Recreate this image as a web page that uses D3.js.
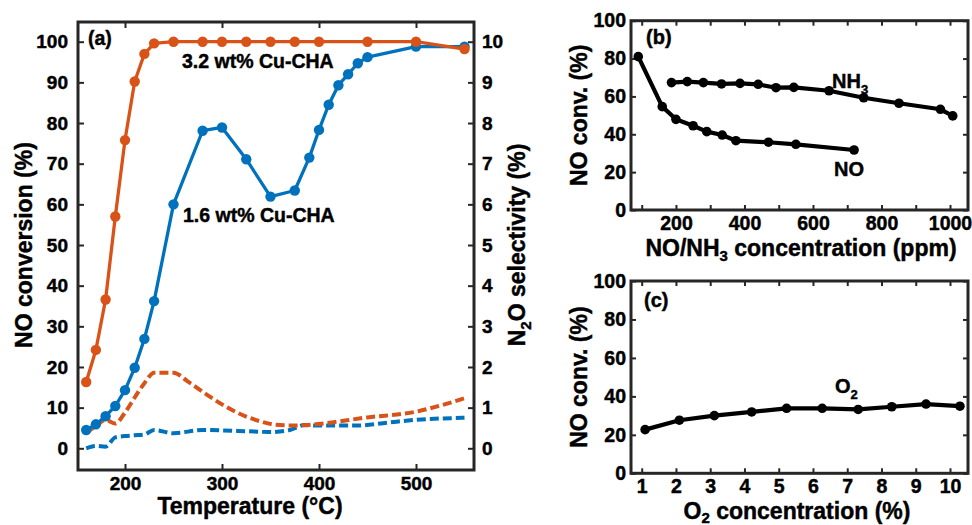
<!DOCTYPE html>
<html>
<head>
<meta charset="utf-8">
<script src="https://cdn.jsdelivr.net/npm/d3@7/dist/d3.min.js"></script>
<style>
  html, body { margin: 0; padding: 0; background: #fff; }
  svg { display: block; font-family: "Liberation Sans", Arial, sans-serif; font-weight: bold; }
  svg text { stroke: #000; stroke-width: 0.45px; fill: #000; }
</style>
</head>
<body>
<svg id="chart" width="972" height="525"></svg>
<script>
// ---------- Data ----------
// Panel (a): NO conversion vs temperature
const tempHigh = [160, 170, 180, 190, 200, 210, 220, 230, 250, 280, 300, 325, 350, 375, 400, 450, 500, 550];
const convHigh = [16.3, 24.2, 36.6, 57.0, 75.8, 90.2, 97.0, 99.6, 100, 100, 100, 100, 100, 100, 100, 100, 100, 98.2];
const tempLow = [160, 170, 180, 190, 200, 210, 220, 230, 250, 280, 300, 325, 350, 375, 390, 400, 410, 420, 430, 440, 450, 500, 550];
const convLow = [4.5, 5.9, 7.9, 10.4, 14.3, 19.8, 26.9, 36.2, 60.0, 78.1, 78.9, 71.1, 61.9, 63.4, 71.5, 78.3, 84.5, 89.3, 92.0, 94.7, 96.2, 98.8, 98.8];
// N2O selectivity (%), right axis
const selTemp = [160, 170, 180, 190, 200, 210, 220, 230, 250, 265, 285, 300, 325, 340, 355, 375, 400, 450, 500, 525, 550];
const selHigh = [0.38, 0.55, 0.70, 0.61, 0.88, 1.25, 1.60, 1.86, 1.86, 1.64, 1.31, 1.08, 0.78, 0.66, 0.58, 0.56, 0.60, 0.76, 0.90, 1.05, 1.23];
const selLowTemp = [160, 170, 180, 190, 200, 210, 220, 230, 250, 280, 300, 325, 350, 370, 385, 400, 440, 470, 500, 550];
const selLow = [0.0, 0.06, 0.04, 0.27, 0.30, 0.32, 0.34, 0.45, 0.37, 0.45, 0.44, 0.42, 0.40, 0.45, 0.57, 0.56, 0.56, 0.63, 0.70, 0.75];

const tickA = [200, 300, 400, 500];
const tickLeft = [0, 10, 20, 30, 40, 50, 60, 70, 80, 90, 100];
const tickRight = [0, 1, 2, 3, 4, 5, 6, 7, 8, 9, 10];

// Panel (b): NO / NH3 concentration
const noConc = [90, 160, 200, 250, 290, 335, 375, 470, 550, 720];
const noConvNO = [81.0, 54.6, 47.9, 44.5, 41.4, 39.6, 36.6, 35.8, 34.7, 31.7];
const nh3Conc = [187, 233, 280, 333, 387, 440, 492, 544, 647, 748, 851, 972, 1008];
const noConvNH3 = [67.3, 67.8, 67.3, 66.6, 66.9, 66.4, 64.6, 64.8, 63.0, 59.3, 56.4, 53.2, 49.7];
const tickB = [200, 400, 600, 800, 1000];
const tickBMinor = [100, 200, 300, 400, 500, 600, 700, 800, 900, 1000];

// Panel (c): O2 concentration
const o2Conc = [1.10, 2.10, 3.12, 4.21, 5.23, 6.27, 7.32, 8.30, 9.30, 10.29];
const noConvO2 = [22.7, 27.6, 30.0, 31.9, 33.8, 33.8, 33.2, 34.6, 36.0, 34.9];
const tickC = [1, 2, 3, 4, 5, 6, 7, 8, 9, 10];
const tickY = [0, 20, 40, 60, 80, 100];

// ---------- Styles ----------
const ORANGE = "#D95319", BLUE = "#0072BD", FRAME = "#262626";
const svg = d3.select("#chart");

function frame(g, x0, y0, x1, y1) {
  g.append("rect").attr("x", x0).attr("y", y0).attr("width", x1 - x0).attr("height", y1 - y0)
    .attr("fill", "none").attr("stroke", FRAME).attr("stroke-width", 3);
}
function styleAxis(sel, fs) {
  sel.select(".domain").remove();
  sel.selectAll(".tick line").attr("stroke", FRAME).attr("stroke-width", 2);
  sel.selectAll(".tick text").attr("font-size", fs)
    .attr("font-family", "Liberation Sans, Arial, sans-serif").attr("font-weight", "bold");
}

// ---------- Panel (a) ----------
{
  const L = 78, R = 474, T = 22, B = 470;
  const x = d3.scaleLinear().domain([200, 500]).range([125, 416]);
  const y = d3.scaleLinear().domain([0, 100]).range([448.3, 41.7]);
  const y2 = d3.scaleLinear().domain([0, 10]).range([448.3, 41.7]);
  const g = svg.append("g");

  const ax = g.append("g").attr("transform", `translate(0,${B})`)
    .call(d3.axisBottom(x).tickValues(tickA).tickSize(-6).tickPadding(7).tickFormat(d3.format("d")));
  styleAxis(ax, 19);
  const axT = g.append("g").attr("transform", `translate(0,${T})`)
    .call(d3.axisTop(x).tickValues(tickA).tickSize(-6).tickFormat(""));
  styleAxis(axT, 19);
  const ay = g.append("g").attr("transform", `translate(${L},0)`)
    .call(d3.axisLeft(y).tickValues(tickLeft).tickSize(-6).tickPadding(10).tickFormat(d3.format("d")));
  styleAxis(ay, 19);
  const ay2 = g.append("g").attr("transform", `translate(${R},0)`)
    .call(d3.axisRight(y2).tickValues(tickRight).tickSize(-6).tickPadding(8).tickFormat(d3.format("d")));
  styleAxis(ay2, 19);

  // dashed selectivity curves
  const lineSel = (xs) => d3.line().x((d, i) => x(xs[i])).y(d => y2(d)).curve(d3.curveMonotoneX);
  g.append("path").datum(selLow).attr("d", lineSel(selLowTemp)).attr("fill", "none")
    .attr("stroke", BLUE).attr("stroke-width", 4).attr("stroke-dasharray", "9,4");
  g.append("path").datum(selHigh).attr("d", lineSel(selTemp)).attr("fill", "none")
    .attr("stroke", ORANGE).attr("stroke-width", 4).attr("stroke-dasharray", "9,4");

  // conversion curves
  const drawSeries = (xs, ys, color) => {
    const line = d3.line().x((d, i) => x(xs[i])).y(d => y(d));
    g.append("path").datum(ys).attr("d", line).attr("fill", "none")
      .attr("stroke", color).attr("stroke-width", 3.3).attr("stroke-linejoin", "round");
    g.append("g").selectAll("circle").data(ys).join("circle")
      .attr("cx", (d, i) => x(xs[i])).attr("cy", d => y(d)).attr("r", 5.2).attr("fill", color);
  };
  drawSeries(tempLow, convLow, BLUE);
  drawSeries(tempHigh, convHigh, ORANGE);

  frame(g, L, T, R, B);

  g.append("text").attr("x", 88).attr("y", 45).attr("font-size", 19.5).text("(a)");
  g.append("text").attr("x", 182).attr("y", 68).attr("font-size", 19.5).text("3.2 wt% Cu-CHA");
  g.append("text").attr("x", 183).attr("y", 222).attr("font-size", 19.5).text("1.6 wt% Cu-CHA");

  g.append("text").attr("x", 250).attr("y", 514).attr("text-anchor", "middle")
    .attr("font-size", 23).text("Temperature (°C)");
  g.append("text").attr("transform", `translate(32,245) rotate(-90)`).attr("text-anchor", "middle")
    .attr("font-size", 23).text("NO conversion (%)");
  const rl = g.append("text").attr("transform", `translate(525,245) rotate(-90)`).attr("text-anchor", "middle")
    .attr("font-size", 23);
  rl.append("tspan").text("N");
  rl.append("tspan").attr("font-size", 15).attr("dy", 6).text("2");
  rl.append("tspan").attr("dy", -6).text("O selectivity (%)");
}

// ---------- Panel (b) & (c) ----------
function smallPanel(opts) {
  const { L, R, T, B, xDom, xRange, series, xTicks, xMinor, label, labelPos, pad } = opts;
  const x = d3.scaleLinear().domain(xDom).range(xRange);
  const y = d3.scaleLinear().domain([0, 100]).range([B, T]);
  const g = svg.append("g");
  const ax = g.append("g").attr("transform", `translate(0,${B})`)
    .call(d3.axisBottom(x).tickValues(xMinor).tickSize(-5).tickPadding(pad)
      .tickFormat(d => xTicks.includes(d) ? d3.format("d")(d) : ""));
  styleAxis(ax, 19.5);
  const axT = g.append("g").attr("transform", `translate(0,${T})`)
    .call(d3.axisTop(x).tickValues(xMinor).tickSize(-5).tickFormat(""));
  styleAxis(axT, 19.5);
  const ay = g.append("g").attr("transform", `translate(${L},0)`)
    .call(d3.axisLeft(y).tickValues(tickY).tickSize(-5).tickPadding(5).tickFormat(d3.format("d")));
  styleAxis(ay, 19.5);
  const ayR = g.append("g").attr("transform", `translate(${R},0)`)
    .call(d3.axisRight(y).tickValues(tickY).tickSize(-5).tickFormat(""));
  styleAxis(ayR, 19.5);

  series.forEach(s => {
    const line = d3.line().x((d, i) => x(s.xs[i])).y(d => y(d));
    g.append("path").datum(s.ys).attr("d", line).attr("fill", "none")
      .attr("stroke", "#000").attr("stroke-width", 4.2).attr("stroke-linejoin", "round");
    g.append("g").selectAll("circle").data(s.ys).join("circle")
      .attr("cx", (d, i) => x(s.xs[i])).attr("cy", d => y(d)).attr("r", 4.8).attr("fill", "#000");
  });
  frame(g, L, T, R, B);
  g.append("text").attr("x", labelPos[0]).attr("y", labelPos[1]).attr("font-size", 20).text(label);
  g.append("text").attr("transform", `translate(587,${(T + B) / 2}) rotate(-90)`).attr("text-anchor", "middle")
    .attr("font-size", 23).text("NO conv. (%)");
  return g;
}

const gb = smallPanel({
  L: 631, R: 968, T: 20.7, B: 210, xDom: [100, 1000], xRange: [641.7, 950],
  series: [{ xs: noConc, ys: noConvNO }, { xs: nh3Conc, ys: noConvNH3 }],
  xTicks: tickB, xMinor: tickBMinor, label: "(b)", labelPos: [646, 44], pad: 6
});
{
  const t = gb.append("text").attr("x", 832).attr("y", 88).attr("font-size", 20);
  t.append("tspan").text("NH");
  t.append("tspan").attr("font-size", 13).attr("dy", 6).text("3");
  gb.append("text").attr("x", 834).attr("y", 176).attr("font-size", 20).text("NO");
  const xl = gb.append("text").attr("x", 801).attr("y", 256).attr("text-anchor", "middle").attr("font-size", 23);
  xl.append("tspan").text("NO/NH");
  xl.append("tspan").attr("font-size", 15).attr("dy", 5).text("3");
  xl.append("tspan").attr("dy", -5).text(" concentration (ppm)");
}

const gc = smallPanel({
  L: 631, R: 968, T: 281, B: 473.3, xDom: [1, 10], xRange: [641.7, 950],
  series: [{ xs: o2Conc, ys: noConvO2 }],
  xTicks: tickC, xMinor: tickC, label: "(c)", labelPos: [644, 307], pad: 6
});
{
  const t = gc.append("text").attr("x", 835).attr("y", 393).attr("font-size", 20);
  t.append("tspan").text("O");
  t.append("tspan").attr("font-size", 13).attr("dy", 6).text("2");
  const xl = gc.append("text").attr("x", 797).attr("y", 519).attr("text-anchor", "middle").attr("font-size", 23);
  xl.append("tspan").text("O");
  xl.append("tspan").attr("font-size", 15).attr("dy", 4).text("2");
  xl.append("tspan").attr("dy", -4).text(" concentration (%)");
}
</script>
</body>
</html>
